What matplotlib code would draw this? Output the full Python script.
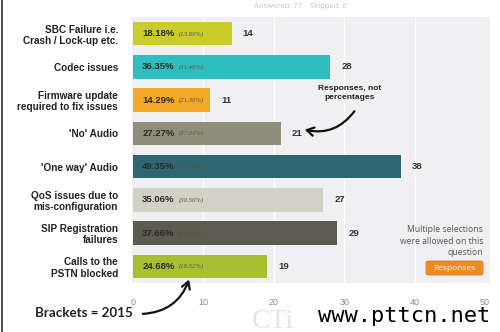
import matplotlib
matplotlib.use("Agg")
import matplotlib.pyplot as plt
from matplotlib.patches import FancyArrowPatch, FancyBboxPatch
from matplotlib.lines import Line2D

categories = [
    "SBC Failure i.e.\nCrash / Lock-up etc.",
    "Codec issues",
    "Firmware update\nrequired to fix issues",
    "'No' Audio",
    "'One way' Audio",
    "QoS issues due to\nmis-configuration",
    "SIP Registration\nfailures",
    "Calls to the\nPSTN blocked",
]
responses = [14, 28, 11, 21, 38, 27, 29, 19]
pct_2016 = ["18.18%", "36.35%", "14.29%", "27.27%", "49.35%", "35.06%", "37.66%", "24.68%"]
pct_2015 = ["(13.89%)", "(31.48%)", "(21.30%)", "(37.04%)", "(35.26%)", "(30.56%)", "(11.46%)", "(18.52%)"]
colors = ["#c9cc2b", "#30bdc0", "#f2a928", "#8f8d7b", "#2f6672",
          "#d1d1c6", "#5b5b4f", "#a7bf30"]
x_ticks = [0, 10, 20, 30, 40, 50]

W, H = 500, 332
fig = plt.figure(figsize=(W / 100, H / 100), dpi=100)
fig.patch.set_facecolor("white")

def fx(px):
    return px / W

def fy(py):
    return 1 - py / H

ax = fig.add_axes([fx(132), fy(283), fx(490) - fx(132), fy(17) - fy(283)])
ax.set_facecolor("#f0f0f3")
for s in ax.spines.values():
    s.set_visible(False)

ypos = list(range(len(categories)))
ax.barh(ypos, responses, height=0.7, color=colors, zorder=2)
ax.set_xlim(-0.15, 50.7)
ax.set_ylim(7.5, -0.5)

for gx in x_ticks[1:-1]:
    ax.axvline(gx, color="white", lw=1.0, zorder=1)

ax.set_xticks(x_ticks)
ax.set_xticklabels([str(t) for t in x_ticks], fontsize=6.5, color="#8a8a8a",
                   family="Liberation Sans")
ax.tick_params(axis="x", length=0, pad=11)
ax.set_yticks(ypos)
ax.set_yticklabels(categories, fontsize=7.2, fontweight="bold", color="#222222",
                   family="Liberation Sans", linespacing=1.15)
ax.tick_params(axis="y", length=0, pad=10)

for i, (n, p, b) in enumerate(zip(responses, pct_2016, pct_2015)):
    ax.text(1.3, i, p, va="center", ha="left", fontsize=6.8, fontweight="bold",
            color="#2a2a22", family="Liberation Sans", zorder=3)
    ax.text(6.5, i, b, va="center", ha="left", fontsize=4.8, style="italic",
            color="#55553a", family="Liberation Serif", zorder=3)
    ax.annotate(str(n), (n, i), xytext=(8, 0), textcoords="offset points",
                va="center", ha="left", fontsize=6.8, fontweight="bold",
                color="#333333", family="Liberation Sans")

# notes on the right side
fig.text(fx(350), fy(93), "Responses, not\npercentages", ha="center", va="center",
         fontsize=6.0, fontweight="bold", color="#222222", family="Liberation Sans",
         linespacing=1.25)
fig.patches.append(FancyArrowPatch((fx(356), fy(109)), (fx(302), fy(129)),
                                   transform=fig.transFigure,
                                   connectionstyle="arc3,rad=-0.35",
                                   arrowstyle="->,head_length=5,head_width=3",
                                   lw=1.6, color="#111111"))

fig.text(fx(483), fy(241), "Multiple selections\nwere allowed on this\nquestion",
         ha="right", va="center", fontsize=6.2, color="#555555",
         family="Open Sans", linespacing=1.3)
fig.patches.append(FancyBboxPatch((fx(426), fy(275)), fx(57), fy(261) - fy(275),
                                  boxstyle="round,pad=0,rounding_size=0.006",
                                  transform=fig.transFigure,
                                  facecolor="#ef8a25", edgecolor="#e07a18", lw=0.6))
fig.text(fx(454.5), fy(268), "Responses", ha="center", va="center",
         fontsize=6.0, color="white", family="Open Sans")

# bottom note
fig.text(fx(35), fy(313), "Brackets = 2015", ha="left", va="center",
         fontsize=9.6, fontweight="bold", color="#222222", family="Lato")
fig.patches.append(FancyArrowPatch((fx(140), fy(314)), (fx(190), fy(277)),
                                   transform=fig.transFigure,
                                   connectionstyle="arc3,rad=0.35",
                                   arrowstyle="->,head_length=5,head_width=3",
                                   lw=1.6, color="#111111"))

# header line above the chart
fig.text(fx(300), fy(6), "Answered: 77    Skipped: 0", ha="center", va="center",
         fontsize=5.5, color="#c4c4c4", family="Open Sans")

# left frame edge
fig.add_artist(Line2D([fx(2), fx(2)], [0, 1], transform=fig.transFigure,
                      color="#333333", lw=1.2))

# site marks
fig.text(fx(252), fy(321), "CTi", ha="left", va="center", fontsize=20,
         color="#dedede", family="Liberation Serif", alpha=0.8)
fig.text(fx(318), fy(316), "www.pttcn.net", ha="left", va="center", fontsize=15.8,
         color="black", family="DejaVu Sans Mono")

fig.savefig("out.png", dpi=100)
